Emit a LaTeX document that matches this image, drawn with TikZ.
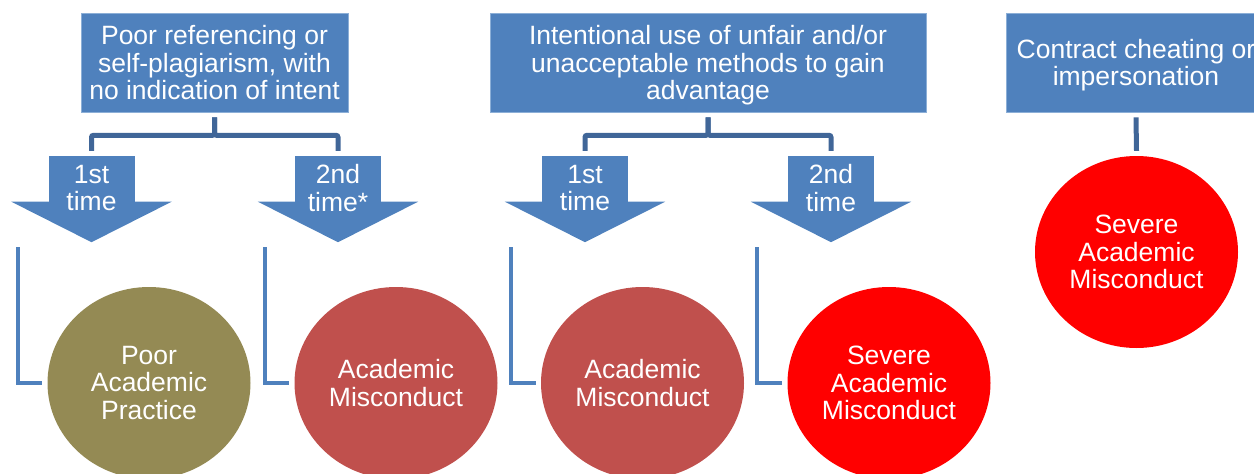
\documentclass[tikz,border=0pt]{standalone}
\usepackage{fontspec}
\setmainfont{Liberation Sans}
\usetikzlibrary{shapes.geometric}

\definecolor{boxblue}{RGB}{79,129,189}
\definecolor{boxedge}{RGB}{140,175,215}
\definecolor{linkblue}{RGB}{64,102,152}
\definecolor{olive}{RGB}{148,138,84}
\definecolor{brick}{RGB}{192,80,77}
\definecolor{brightred}{RGB}{255,0,0}

\begin{document}
\begin{tikzpicture}[x=1pt,y=-1pt,
	txt/.style={text=white,align=center,inner sep=0pt,font=\fontsize{26.5}{27.5}\selectfont},
	casebox/.style={txt,fill=boxblue,draw=boxedge,line width=.6pt,minimum height=99pt,text depth=0pt},
	shaft/.style={fill=boxblue,minimum width=86pt,minimum height=46pt,inner sep=0pt},
	outcome/.style={txt,ellipse,minimum width=203pt,minimum height=192pt},
	bracket/.style={draw=linkblue,line width=5pt,rounded corners=2pt},
	elbow/.style={draw=boxblue,line width=4.5pt}]
	\useasboundingbox (0,0) rectangle (1254,474);
	\clip (0,0) rectangle (1254,474);
	% top boxes
	\node[casebox,minimum width=267pt] (b1) at (214.5,62.5) {Poor referencing or\\self-plagiarism, with\\no indication of intent};
	\node[casebox,minimum width=436pt] (b2) at (708,62.5) {Intentional use of unfair and/or\\unacceptable methods to gain\\advantage};
	\node[casebox,minimum width=260pt] (b3) at (1136,62.5) {Contract cheating or\\impersonation};
	% block arrows
	\foreach \n/\x in {1/91.5,2/338,3/585,4/831}{
		\node[shaft] (a\n) at (\x,179) {};
		\fill[boxblue] ([xshift=-37pt,yshift=.5pt]a\n.south west) -- ([xshift=37pt,yshift=.5pt]a\n.south east) -- ([yshift=-40pt]a\n.south) -- cycle;
	}
	\node[txt] (t1) at (91.5,188) {1st\\time};
	\node[txt] (t2) at (338,188) {2nd\\time*};
	\node[txt] (t3) at (585,188) {1st\\time};
	\node[txt] (t4) at (831,188) {2nd\\time};
	% outcomes
	\node[outcome,fill=olive] (c1) at (149,383) {Poor\\Academic\\Practice};
	\node[outcome,fill=brick] (c2) at (396,383) {Academic\\Misconduct};
	\node[outcome,fill=brick] (c3) at (642.5,383) {Academic\\Misconduct};
	\node[outcome,fill=brightred] (c4) at (889,383) {Severe\\Academic\\Misconduct};
	\node[outcome,fill=brightred] (c5) at (1136.5,252) {Severe\\Academic\\Misconduct};
	% connectors
	\draw[bracket] ([yshift=-5pt]b1.south) -- ++(0,18) -| ([yshift=5pt]a1.north);
	\draw[bracket] ([yshift=-5pt]b1.south) -- ++(0,18) -| ([yshift=5pt]a2.north);
	\draw[bracket] ([yshift=-5pt]b2.south) -- ++(0,18) -| ([yshift=5pt]a3.north);
	\draw[bracket] ([yshift=-5pt]b2.south) -- ++(0,18) -| ([yshift=5pt]a4.north);
	\draw[bracket] ([yshift=-5pt]b3.south) -- ([yshift=5pt]c5.north);
	\coordinate (l1) at (18,247);
	\coordinate (l2) at (265,247);
	\coordinate (l3) at (511,247);
	\coordinate (l4) at (757,247);
	\draw[elbow] (l1) |- ([xshift=-5pt]c1.west);
	\draw[elbow] (l2) |- ([xshift=-5pt]c2.west);
	\draw[elbow] (l3) |- ([xshift=-5pt]c3.west);
	\draw[elbow] (l4) |- ([xshift=-5pt]c4.west);
\end{tikzpicture}
\end{document}
